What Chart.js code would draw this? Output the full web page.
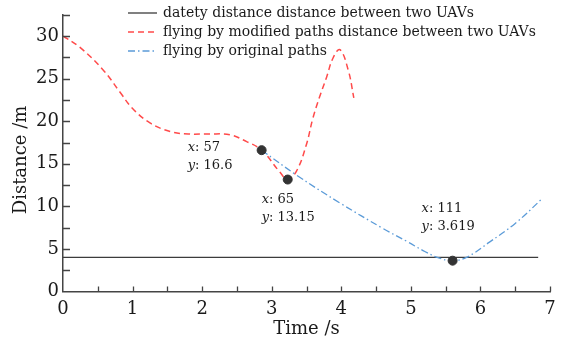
<!DOCTYPE html>
<html>
<head>
<meta charset="utf-8">
<script src="https://cdn.jsdelivr.net/npm/chart.js@4.4.1/dist/chart.umd.min.js"></script>
<style>
  html, body { margin: 0; padding: 0; background: #fff; }
  canvas { display: block; }
</style>
</head>
<body>
<canvas id="myChart" width="568" height="341"></canvas>
<script>
// series names (legend)
const seriesNames = [
    "datety distance distance between two UAVs",
    "flying by modified paths distance between two UAVs",
    "flying by original paths"
];

// safety distance line
const safeX = [0, 6.83];
const safeY = [4, 4];

// modified paths (red dashed)
const modX = [0, 0.24, 0.58, 0.82, 1.0, 1.25, 1.54, 1.8, 2.1, 2.4, 2.64, 2.855, 3.12, 3.23, 3.36, 3.5, 3.59, 3.69, 3.79, 3.88, 3.98, 4.1, 4.18];
const modY = [30, 28.7, 26.0, 23.4, 21.5, 19.8, 18.8, 18.5, 18.5, 18.4, 17.6, 16.6, 14.0, 13.15, 14.2, 17.3, 20.3, 22.9, 25.2, 27.4, 28.4, 26.0, 22.75];

// original paths (blue dash-dot)
const origX = [2.855, 3.36, 3.98, 4.6, 4.94, 5.2, 5.4, 5.6, 5.8, 6.13, 6.5, 6.9];
const origY = [16.6, 13.65, 10.4, 7.4, 5.9, 4.7, 3.95, 3.619, 4.0, 5.8, 8.0, 11.0];

// data tips
const tipX = [2.855, 3.23, 5.6];
const tipY = [16.6, 13.15, 3.619];
const tipIndex = [57, 65, 111];
const tipYText = ["16.6", "13.15", "3.619"];

// tick labels
const xTickLabels = [0, 1, 2, 3, 4, 5, 6, 7];
const yTickLabels = [0, 5, 10, 15, 20, 25, 30];

function toPoints(xs, ys) {
    return xs.map(function (x, i) { return {x: x, y: ys[i]}; });
}

const SERIF = "'DejaVu Serif', serif";
const AXIS_COLOR = '#444';
const TEXT_COLOR = '#1a1a1a';

// label offsets from the tip point, in px
const tipOffsets = [[-74, -3], [-26, 20], [-31, -52]];

const extrasPlugin = {
    id: 'extras',
    afterDraw: function (chart) {
        const ctx = chart.ctx;
        const xs = chart.scales.x, ys = chart.scales.y;
        const area = chart.chartArea;

        ctx.save();
        // inward tick marks
        ctx.strokeStyle = AXIS_COLOR;
        ctx.lineWidth = 1.3;
        ctx.beginPath();
        xs.ticks.forEach(function (t) {
            if (t.value === 0) return;
            const px = Math.round(xs.getPixelForValue(t.value)) + 0.5;
            ctx.moveTo(px, area.bottom);
            ctx.lineTo(px, area.bottom - 5);
        });
        ys.ticks.forEach(function (t) {
            if (t.value === 0) return;
            const py = Math.round(ys.getPixelForValue(t.value)) + 0.5;
            ctx.moveTo(area.left, py);
            ctx.lineTo(area.left + 7, py);
        });
        ctx.stroke();

        // y axis title
        ctx.fillStyle = TEXT_COLOR;
        ctx.font = "18px " + SERIF;
        ctx.textAlign = 'center';
        ctx.textBaseline = 'middle';
        ctx.translate(21, 160);
        ctx.rotate(-Math.PI / 2);
        ctx.fillText("Distance /m", 0, 0);
        ctx.restore();

        // legend
        ctx.save();
        const ds = chart.data.datasets;
        ctx.font = "14px " + SERIF;
        ctx.textBaseline = 'middle';
        for (let i = 0; i < 3; i++) {
            const d = ds[i];
            const y = 13 + i * 19;
            ctx.strokeStyle = d.borderColor;
            ctx.lineWidth = d.borderWidth;
            ctx.setLineDash(d.borderDash || []);
            ctx.beginPath();
            ctx.moveTo(128, y);
            ctx.lineTo(157, y);
            ctx.stroke();
            ctx.setLineDash([]);
            ctx.fillStyle = TEXT_COLOR;
            ctx.fillText(seriesNames[i], 163, y);
        }

        // data tip labels
        for (let i = 0; i < tipX.length; i++) {
            const px = xs.getPixelForValue(tipX[i]) + tipOffsets[i][0];
            const py = ys.getPixelForValue(tipY[i]) + tipOffsets[i][1];
            ctx.font = "italic 13px " + SERIF;
            ctx.fillText("x", px, py);
            let w = ctx.measureText("x").width;
            ctx.font = "13px " + SERIF;
            ctx.fillText(": " + tipIndex[i], px + w, py);
            ctx.font = "italic 13px " + SERIF;
            ctx.fillText("y", px, py + 18);
            w = ctx.measureText("y").width;
            ctx.font = "13px " + SERIF;
            ctx.fillText(": " + tipYText[i], px + w, py + 18);
        }
        ctx.restore();
    }
};

const ctx = document.getElementById('myChart').getContext('2d');

const myChart = new Chart(ctx, {
    type: 'line',
    data: {
        datasets: [{
            label: seriesNames[0],
            data: toPoints(safeX, safeY),
            borderColor: '#3c3c3c',
            borderWidth: 1.3,
            pointRadius: 0,
            order: 3
        }, {
            label: seriesNames[1],
            data: toPoints(modX, modY),
            borderColor: '#ff4a4a',
            borderWidth: 1.5,
            borderDash: [6, 4],
            pointRadius: 0,
            tension: 0.4,
            order: 2
        }, {
            label: seriesNames[2],
            data: toPoints(origX, origY),
            borderColor: '#5b9bd8',
            borderWidth: 1.3,
            borderDash: [7, 3, 1.5, 3],
            pointRadius: 0,
            tension: 0.4,
            order: 1
        }, {
            label: 'tips',
            data: toPoints(tipX, tipY),
            showLine: false,
            pointRadius: 4.5,
            pointBorderWidth: 1,
            pointBackgroundColor: '#333',
            pointBorderColor: '#333',
            order: 0
        }]
    },
    options: {
        responsive: false,
        animation: false,
        events: [],
        layout: {padding: {top: 6, right: 18, left: 0, bottom: 0}},
        plugins: {legend: {display: false}, tooltip: {enabled: false}},
        scales: {
            x: {
                type: 'linear',
                min: 0,
                max: 7,
                afterFit: function (scale) { scale.height = 49.5; },
                ticks: {
                    stepSize: 0.5,
                    autoSkip: false,
                    maxRotation: 0,
                    padding: 7,
                    color: TEXT_COLOR,
                    font: {family: SERIF, size: 18},
                    callback: function (v) { return xTickLabels.indexOf(v) >= 0 ? String(v) : ''; }
                },
                grid: {drawOnChartArea: false, drawTicks: false},
                border: {color: AXIS_COLOR, width: 1.5},
                title: {
                    display: true,
                    text: 'Time /s',
                    color: TEXT_COLOR,
                    font: {family: SERIF, size: 18},
                    padding: {top: 0, bottom: 1}
                }
            },
            y: {
                type: 'linear',
                min: 0,
                max: 32.5,
                afterFit: function (scale) { scale.width = 63; },
                ticks: {
                    stepSize: 2.5,
                    autoSkip: false,
                    padding: 4,
                    color: TEXT_COLOR,
                    font: {family: SERIF, size: 18},
                    callback: function (v) { return yTickLabels.indexOf(v) >= 0 ? String(v) : ''; }
                },
                grid: {drawOnChartArea: false, drawTicks: false},
                border: {color: AXIS_COLOR, width: 1.5}
            }
        }
    },
    plugins: [extrasPlugin]
});
</script>
</body>
</html>
